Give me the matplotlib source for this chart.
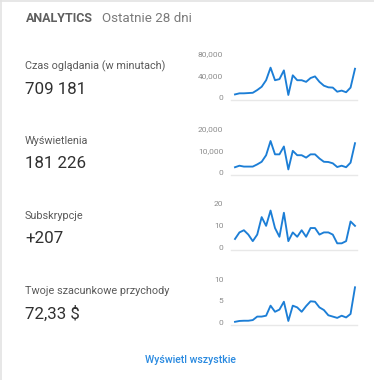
import matplotlib
matplotlib.use("Agg")
import matplotlib.pyplot as plt
from matplotlib.lines import Line2D

plt.rcParams['font.family'] = ['Roboto', 'DejaVu Sans']

W, H = 374, 380

labels = ["Czas oglądania (w minutach)", "Wyświetlenia", "Subskrypcje", "Twoje szacunkowe przychody"]
totals = ["709 181", "181 226", "+207", "72,33 $"]
tick_vals = [[0, 40000, 80000], [0, 10000, 20000], [0, 10, 20], [0, 5, 10]]
tick_labels = [["0", "40,000", "80,000"], ["0", "10,000", "20,000"], ["0", "10", "20"], ["0", "5", "10"]]

watch_time = [6000, 8000, 8000, 8500, 9000, 14000, 20000, 32000, 55000, 32000, 34000, 50000, 5000, 41000,
              32000, 32000, 29000, 36000, 39000, 29000, 22000, 19000, 18500, 11000, 13000, 10000, 18500, 53000]
views = [2500, 3200, 2800, 2800, 2800, 3800, 5000, 8000, 14500, 8400, 8400, 12000, 1500, 10000,
         8000, 8000, 6900, 8400, 8400, 6500, 5000, 4900, 4300, 2600, 3200, 2500, 4600, 13500]
subs = [4, 7, 8, 6, 3, 6, 14, 10, 17, 9, 5, 16, 3, 7, 5, 8, 5, 9, 9, 6, 7, 7, 6, 2, 2, 3, 12, 10]
revenue = [0.2, 0.4, 0.45, 0.45, 0.6, 1.4, 1.4, 1.6, 3.9, 2.5, 3.0, 4.8, 0.4, 3.9,
           3.5, 2.5, 3.8, 4.9, 4.8, 3.5, 2.9, 1.7, 1.4, 1.1, 1.6, 1.2, 2.0, 8.1]
series = [watch_time, views, subs, revenue]

fig = plt.figure(figsize=(W / 100, H / 100), dpi=100)
fig.patch.set_facecolor("white")

def fx(x):
    return x / W

def fy(y):
    return 1 - y / H

# card border (top and left)
fig.add_artist(Line2D([0, 1], [fy(0.5), fy(0.5)], color="#e3e3e3", lw=1.2, transform=fig.transFigure))
fig.add_artist(Line2D([fx(0.5), fx(0.5)], [0, 1], color="#e3e3e3", lw=1.2, transform=fig.transFigure))

# header
fig.text(fx(26), fy(18.5), "ANALYTICS", fontsize=9.0, fontweight="bold", color="#5f5f5f", va="center", ha="left")
fig.text(fx(102), fy(18.5), "Ostatnie 28 dni", fontsize=9.6, color="#7a7a7a", va="center", ha="left")

line_color = "#1c7ed6"
n = len(watch_time)
step = 120 / (n - 1)
for i in range(4):
    off = 75 * i
    fig.text(fx(25), fy(66 + off), labels[i], fontsize=7.85, color="#5a5a5a", va="center", ha="left")
    fig.text(fx(25), fy(89 + off), totals[i], fontsize=12.2, color="#303030", va="center", ha="left")

    y_top = 54 + off
    y_zero = 97.7 + off
    ax = fig.add_axes([fx(231), fy(y_zero), (357 - 231) / W, (y_zero - y_top) / H])
    ax.plot(range(n), series[i], color=line_color, lw=1.35, clip_on=False)
    ax.set_xlim(-4 / step, (n - 1) + 2 / step)
    ax.set_ylim(tick_vals[i][0], tick_vals[i][-1])
    ax.set_yticks(tick_vals[i])
    ax.set_yticklabels(tick_labels[i])
    ax.set_xticks([])
    ax.tick_params(axis="y", length=0, pad=5.5, labelsize=6.0, labelcolor="#8c8c8c")
    for s in ["top", "right", "left"]:
        ax.spines[s].set_visible(False)
    ax.spines["bottom"].set_color("#e8e8e8")
    ax.spines["bottom"].set_linewidth(1.0)
    ax.spines["bottom"].set_position(("outward", 1.3))
    ax.patch.set_alpha(0)

fig.text(fx(190), fy(360), "Wyświetl wszystkie", fontsize=7.6, color="#2a8ae0", va="center", ha="center",
         fontweight="medium")

fig.savefig("out.png", dpi=100, facecolor="white")
